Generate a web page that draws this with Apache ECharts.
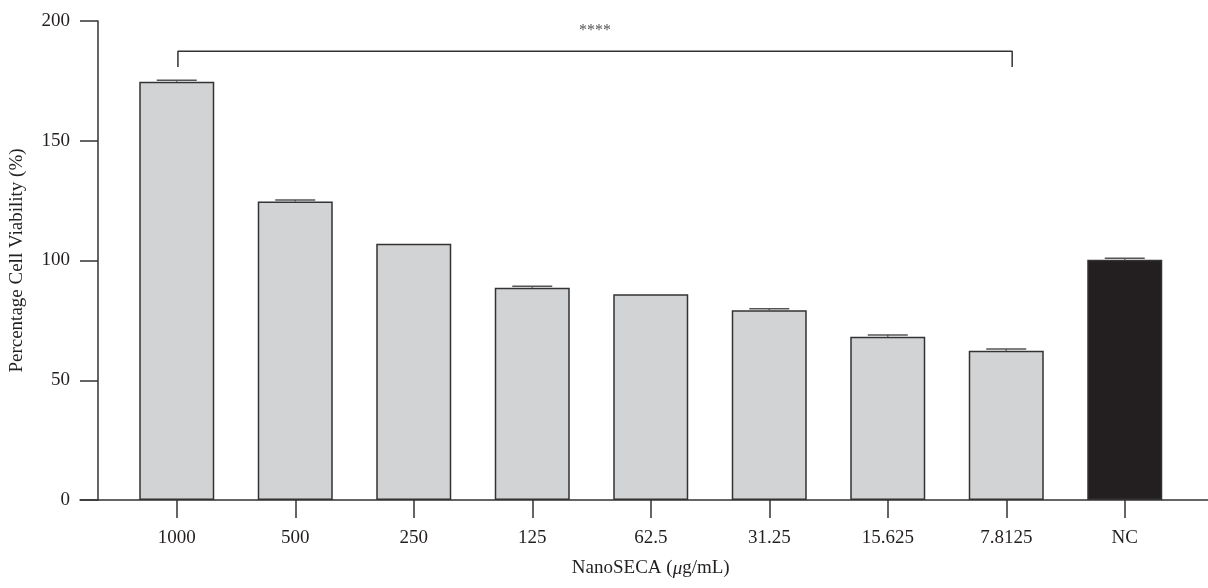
<!DOCTYPE html>
<html>
<head>
<meta charset="utf-8">
<script src="https://cdn.jsdelivr.net/npm/echarts@6/dist/echarts.min.js"></script>
<style>
  html, body { margin: 0; padding: 0; background: #fff; }
  #chart { width: 1208px; height: 588px; }
</style>
</head>
<body>
<div id="chart"></div>
<script>
// NanoSECA concentrations (µg/mL) and negative control
const categories = ['1000', '500', '250', '125', '62.5', '31.25', '15.625', '7.8125', 'NC'];
// Mean percentage cell viability
const viability = [174.6, 124.6, 107.0, 88.6, 85.9, 79.2, 68.2, 62.3, 100.3];
// Upper error (SD)
const errors = [0.7, 0.7, 0, 0.7, 0, 0.7, 0.7, 0.8, 0.6];
// Y axis ticks
const yTicks = [0, 50, 100, 150, 200];
// Significance bracket: from first to last treatment group
const bracketX = [0.01, 7.05];
const bracketY = [180.8, 187.4];
const bracketLabel = '****';
const bracketLabelY = 195.8;

const FONT = '"Liberation Serif", "DejaVu Serif", serif';
const INK = '#231f20';
const LINE = '#333333';

const chart = echarts.init(document.getElementById('chart'), null, { renderer: 'canvas' });

const barData = viability.map((v, i) => ({
  value: v,
  itemStyle: { color: categories[i] === 'NC' ? '#231f20' : '#d1d3d4' }
}));

const option = {
  animation: false,
  backgroundColor: '#fff',
  grid: [
    { left: 117.5, right: 24, top: 21, bottom: 88 },
    { left: 80, right: 0, top: 21, bottom: 88 }
  ],
  xAxis: [
    {
      type: 'category',
      gridIndex: 0,
      data: categories,
      boundaryGap: true,
      axisLine: { show: false },
      axisTick: { show: true, alignWithLabel: true, length: 18, lineStyle: { color: LINE, width: 1.5 } },
      axisLabel: { color: INK, fontFamily: FONT, fontSize: 19, margin: 29 },
      name: '{n|NanoSECA (}{i|μ}{n|g/mL)}',
      nameLocation: 'middle',
      nameGap: 59,
      nameTextStyle: {
        rich: {
          n: { fontFamily: FONT, fontSize: 19, color: INK },
          i: { fontFamily: FONT, fontSize: 19, color: INK, fontStyle: 'italic' }
        }
      },
      splitLine: { show: false }
    },
    {
      type: 'value',
      gridIndex: 0,
      min: -0.5,
      max: 8.5,
      show: false
    },
    {
      type: 'value',
      gridIndex: 1,
      min: 0,
      max: 1,
      axisLine: { show: true, onZero: false, lineStyle: { color: LINE, width: 1.5 } },
      axisTick: { show: false },
      axisLabel: { show: false },
      splitLine: { show: false }
    }
  ],
  yAxis: [
    {
      type: 'value',
      gridIndex: 0,
      min: yTicks[0],
      max: yTicks[yTicks.length - 1],
      interval: 50,
      offset: 19.5,
      axisLine: { show: true, onZero: false, lineStyle: { color: LINE, width: 1.5 } },
      axisTick: { show: true, inside: false, length: 18, lineStyle: { color: LINE, width: 1.5 } },
      axisLabel: { color: INK, fontFamily: FONT, fontSize: 19, margin: 28 },
      splitLine: { show: false },
      name: 'Percentage Cell Viability (%)',
      nameLocation: 'middle',
      nameGap: 71,
      nameTextStyle: { color: INK, fontFamily: FONT, fontSize: 19 }
    },
    {
      type: 'value',
      gridIndex: 1,
      min: 0,
      max: 200,
      show: false
    }
  ],
  series: [
    {
      type: 'bar',
      xAxisIndex: 0,
      yAxisIndex: 0,
      data: barData,
      barWidth: 75,
      itemStyle: { borderColor: LINE, borderWidth: 1.5 },
      z: 2
    },
    {
      // error caps drawn above each bar
      type: 'custom',
      xAxisIndex: 0,
      yAxisIndex: 0,
      data: viability.map((v, i) => [i, v, v + errors[i]]),
      renderItem: function (params, api) {
        if (api.value(2) <= api.value(1)) return null;
        const base = api.coord([api.value(0), api.value(1)]);
        const top = api.coord([api.value(0), api.value(2)]);
        const half = 20;
        const style = { stroke: '#555', lineWidth: 1.5, fill: null };
        return {
          type: 'group',
          children: [
            { type: 'line', shape: { x1: top[0], y1: base[1], x2: top[0], y2: top[1] }, style: style },
            { type: 'line', shape: { x1: top[0] - half, y1: top[1], x2: top[0] + half, y2: top[1] }, style: style }
          ]
        };
      },
      z: 3
    },
    {
      // significance bracket
      type: 'line',
      xAxisIndex: 1,
      yAxisIndex: 0,
      data: [
        [bracketX[0], bracketY[0]],
        [bracketX[0], bracketY[1]],
        [bracketX[1], bracketY[1]],
        [bracketX[1], bracketY[0]]
      ],
      symbol: 'none',
      lineStyle: { color: LINE, width: 1.5 },
      silent: true
    },
    {
      type: 'scatter',
      xAxisIndex: 1,
      yAxisIndex: 0,
      data: [[(bracketX[0] + bracketX[1]) / 2, bracketLabelY]],
      symbolSize: 0,
      label: {
        show: true,
        position: 'inside',
        formatter: bracketLabel,
        color: INK,
        fontFamily: FONT,
        fontSize: 16
      },
      silent: true
    }
  ]
};

chart.setOption(option);
</script>
</body>
</html>
